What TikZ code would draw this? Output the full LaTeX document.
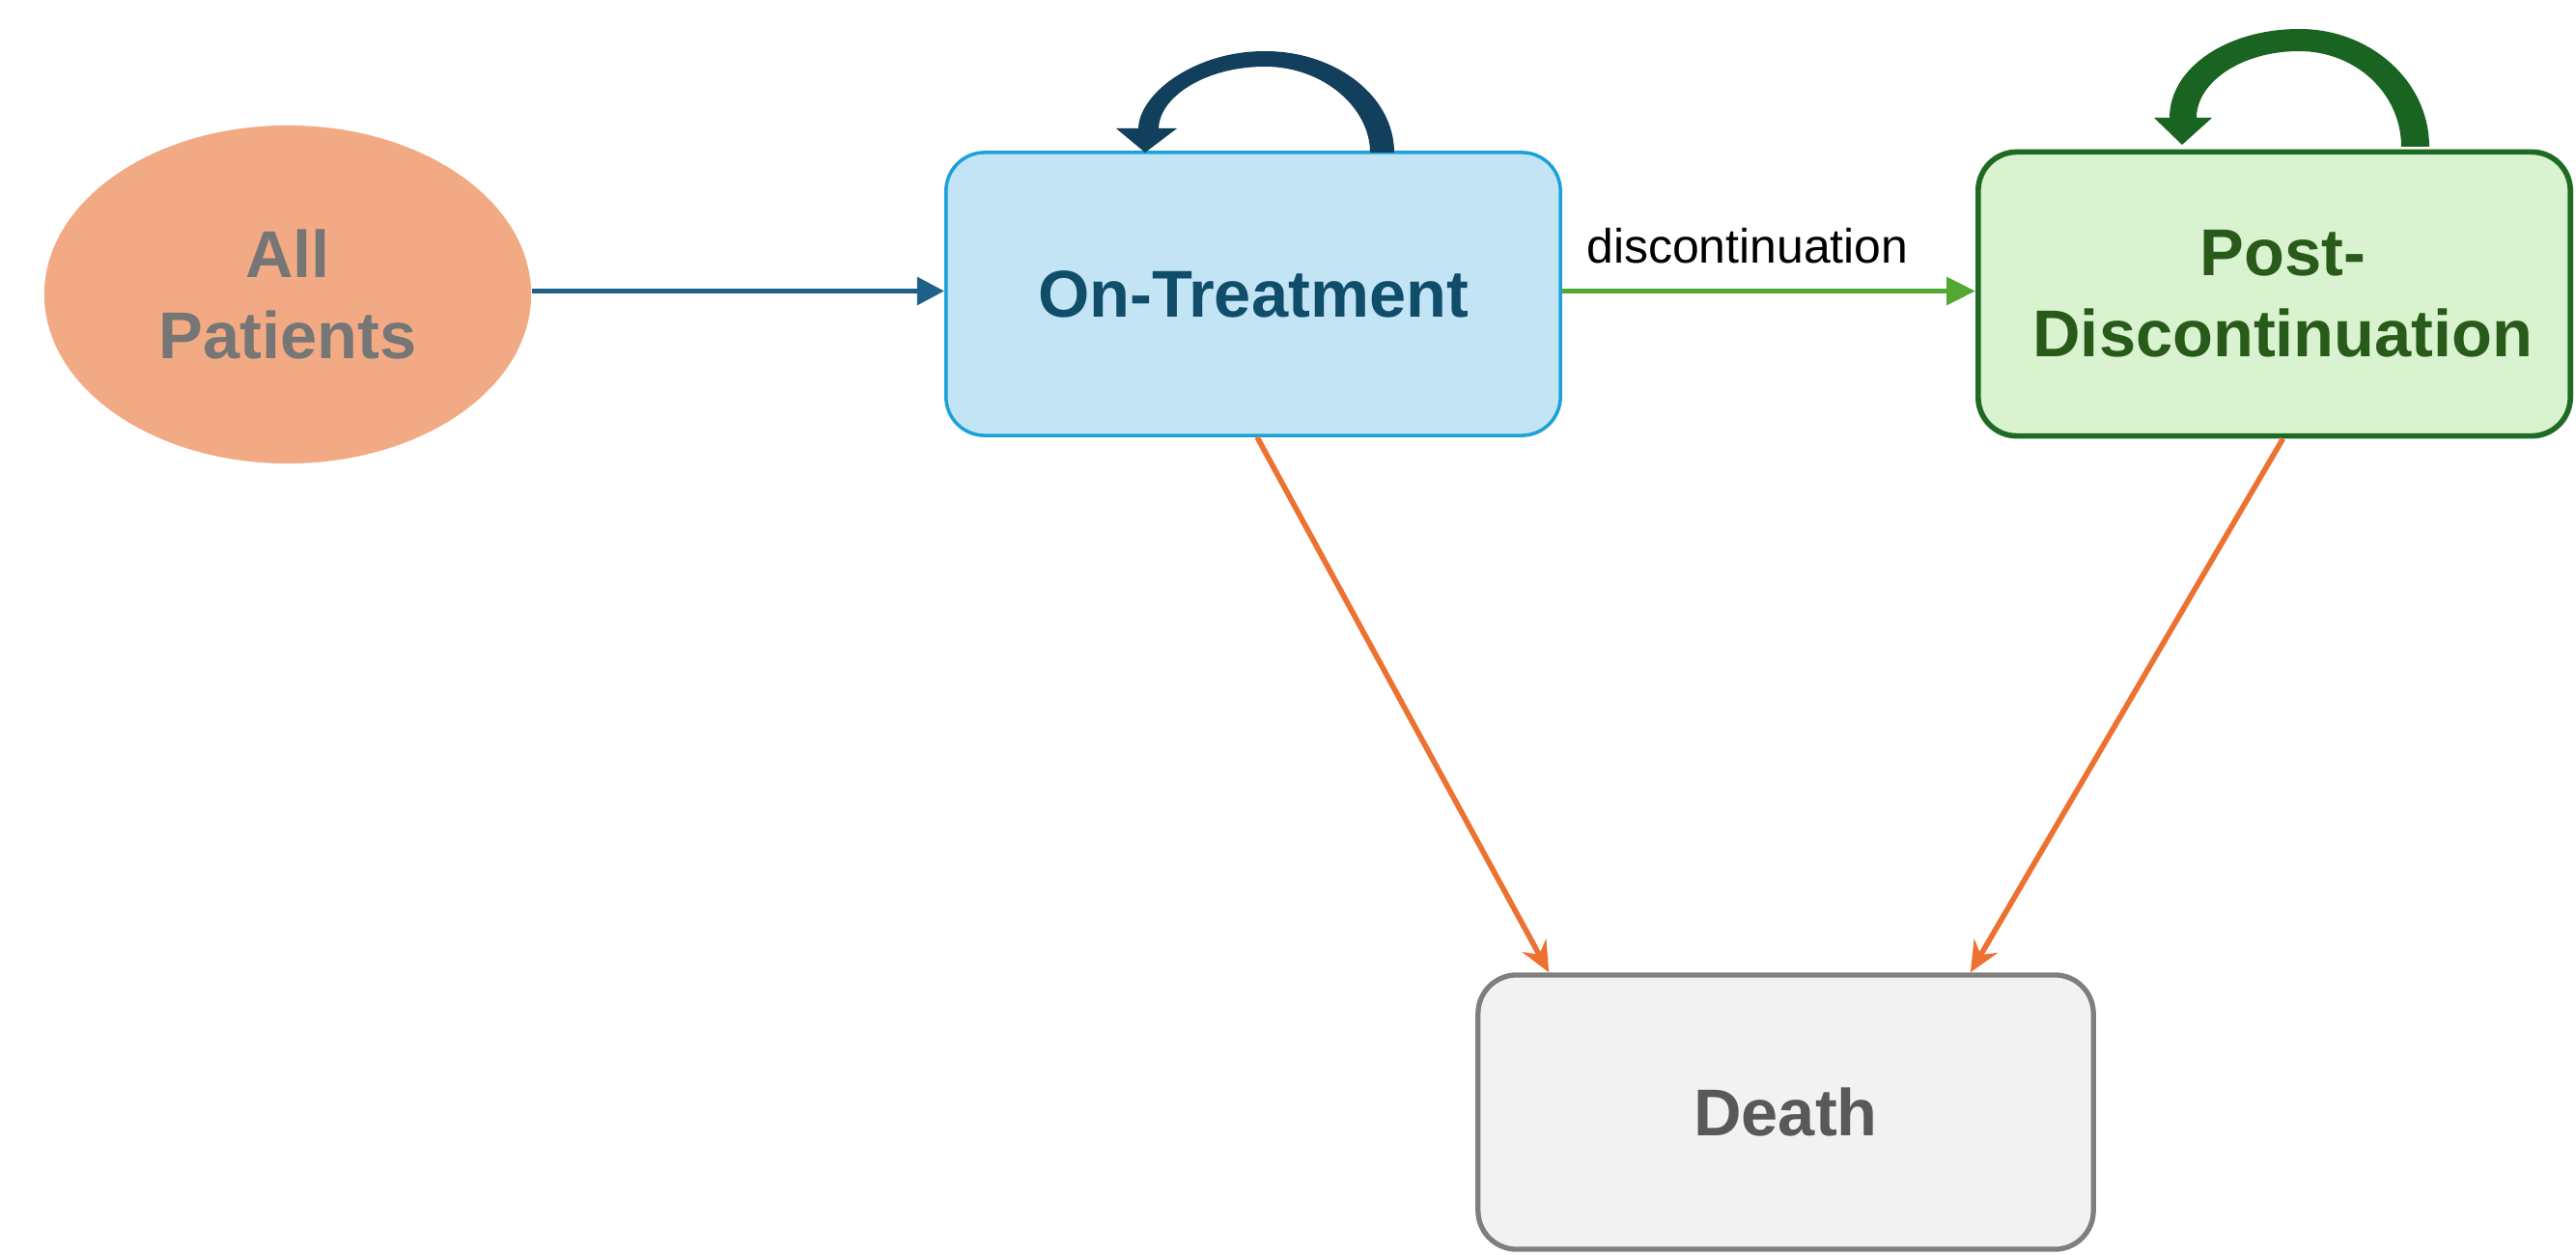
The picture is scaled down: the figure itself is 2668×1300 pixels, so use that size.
\documentclass[tikz,border=0pt]{standalone}
\usepackage{fontspec}
\setmainfont{Liberation Sans}
\usetikzlibrary{shapes.geometric,arrows.meta,calc}
\definecolor{apfill}{HTML}{F2AA84}
\definecolor{aptext}{HTML}{767676}
\definecolor{otfill}{HTML}{C2E4F4}
\definecolor{otdraw}{HTML}{1BA1D8}
\definecolor{ottext}{HTML}{0F4D6B}
\definecolor{otloop}{HTML}{123F5B}
\definecolor{bluearrow}{HTML}{1F6087}
\definecolor{greenarrow}{HTML}{52A832}
\definecolor{pdfill}{HTML}{D9F2D0}
\definecolor{pddraw}{HTML}{1E6B24}
\definecolor{pdtext}{HTML}{285A1A}
\definecolor{pdloop}{HTML}{1A6422}
\definecolor{dfill}{HTML}{F2F2F2}
\definecolor{ddraw}{HTML}{7F7F7F}
\definecolor{dtext}{HTML}{595959}
\definecolor{orangearrow}{HTML}{ED7131}
\begin{document}
\begin{tikzpicture}[x=0.01cm,y=-0.01cm,
  statefont/.style={font=\bfseries\fontsize{19.5}{24}\selectfont, align=center},
  statebox/.style={statefont, rounded corners=0.4cm, inner sep=0pt},
  arr/.style={line width=1.6pt},
]
\useasboundingbox (0,0) rectangle (2668,1300);

\node[ellipse, statefont, fill=apfill, text=aptext, minimum width=5.04cm, minimum height=3.5cm, inner sep=0pt] (ap) at (298,305) {All\\Patients};

\node[statebox, fill=otfill, draw=otdraw, line width=1pt, text=ottext, minimum width=6.36cm, minimum height=2.93cm] (ot) at (1298,304.5) {On-Treatment};

\node[statebox, fill=pdfill, draw=pddraw, line width=1.6pt, text=pdtext, minimum width=6.13cm, minimum height=2.94cm] (pd) at (2355.5,304.5) {\hspace*{0.18cm}Post-\\\hspace*{0.18cm}Discontinuation};

\node[statebox, fill=dfill, draw=ddraw, line width=1.5pt, text=dtext, minimum width=6.37cm, minimum height=2.84cm] (dt) at (1849.5,1152) {Death};

% connectors
\draw[arr, bluearrow, -{Triangle[length=8pt,width=8pt]}] ($(ap.east |- ot.west)+(0,-3)$) -- ($(ot.west)+(0,-3)$);
\draw[arr, greenarrow, -{Triangle[length=8.5pt,width=8pt]}] ($(ot.east)+(0,-3)$) -- node[above=4pt, xshift=-0.22cm, text=black, font=\fontsize{14.2}{17}\selectfont] {discontinuation} ($(pd.west)+(0,-3)$);
\draw[arr, orangearrow, -{Stealth[length=9pt,width=8pt,inset=3pt]}] ($(ot.south)+(4,0)$) -- ($(dt.north west)+(76,0)$);
\draw[arr, orangearrow, -{Stealth[length=9pt,width=8pt,inset=3pt]}] ($(pd.south)+(9,0)$) -- ($(dt.north east)+(-130,0)$);

% self loops
\fill[otloop] (1444,158) .. controls (1444,100) and (1384,53) .. (1310,53)
  .. controls (1237,53) and (1180,97) .. (1179,133)
  -- (1156,133) -- (1186,158) -- (1219,133) -- (1200,133)
  .. controls (1201,100) and (1249,69) .. (1310,69)
  .. controls (1371,69) and (1419,112) .. (1419,158) -- cycle;

\fill[pdloop] (2516,152) .. controls (2516,85) and (2456,30) .. (2381.5,30)
  .. controls (2307,30) and (2247,70) .. (2247,122)
  -- (2231,122) -- (2260,150) -- (2291,122) -- (2275,122)
  .. controls (2275,85) and (2322,53) .. (2381,53)
  .. controls (2440,53) and (2487,97) .. (2487,152) -- cycle;
\end{tikzpicture}
\end{document}
